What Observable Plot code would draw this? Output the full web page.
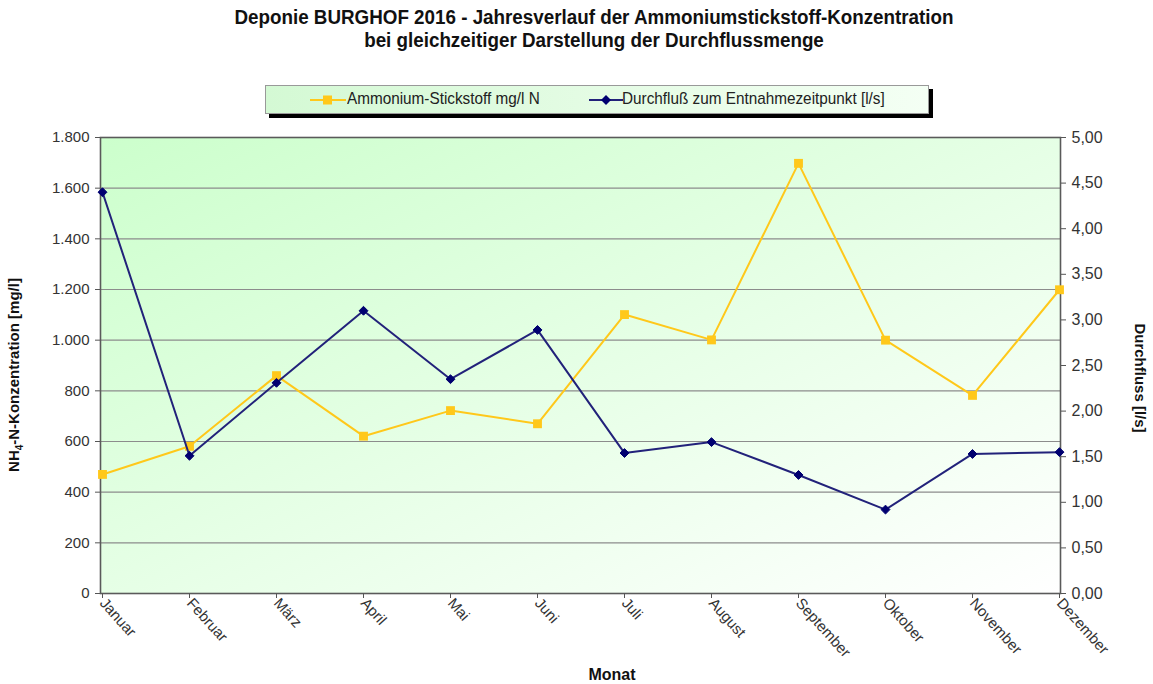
<!DOCTYPE html>
<html><head><meta charset="utf-8">
<script src="https://cdn.jsdelivr.net/npm/d3@7"></script>
<script src="https://cdn.jsdelivr.net/npm/@observablehq/plot@0.6"></script>
<style>
body{margin:0;background:#fff;font-family:"Liberation Sans",Arial,sans-serif;}
#wrap{position:relative;width:1153px;height:684px;overflow:hidden;}
#chart{position:absolute;left:0;top:0;}
.title{position:absolute;left:594px;transform:translateX(-50%) scaleX(0.94);white-space:nowrap;font-weight:bold;font-size:20px;color:#111;}
#legend{position:absolute;left:265px;top:85px;width:662px;height:27px;border:1px solid #999;background:linear-gradient(to right,#d4f9d4,#f4fff4);box-shadow:4px 4px 0 #000;font-size:17px;color:#222;}
.li{position:absolute;top:3px;white-space:nowrap;transform-origin:left center;transform:scaleX(0.9);}
.ax{position:absolute;font-weight:bold;font-size:15px;color:#111;white-space:nowrap;}
</style></head><body>
<div id="wrap">
<div id="chart"></div>
<div class="title" style="top:6px">Deponie BURGHOF 2016 - Jahresverlauf der Ammoniumstickstoff-Konzentration</div>
<div class="title" style="top:29px">bei gleichzeitiger Darstellung der Durchflussmenge</div>
<div id="legend">
 <svg style="position:absolute;left:44px;top:6px" width="36" height="16"><line x1="0" y1="8" x2="36" y2="8" stroke="#ffc81a" stroke-width="2"/><rect x="13" y="3.5" width="9" height="9" fill="#ffc81a"/></svg>
 <div class="li" style="left:81px">Ammonium-Stickstoff mg/l N</div>
 <svg style="position:absolute;left:323px;top:6px" width="34" height="16"><line x1="0" y1="8" x2="34" y2="8" stroke="#22227a" stroke-width="2"/><path d="M17 3 L22 8 L17 13 L12 8Z" fill="#000070"/></svg>
 <div class="li" style="left:356px">Durchfluß zum Entnahmezeitpunkt [l/s]</div>
</div>
<div class="ax" style="left:15px;top:375px;transform:translate(-50%,-50%) rotate(-90deg)">NH<sub style="font-size:10px">4</sub>-N-Konzentration [mg/l]</div>
<div class="ax" style="left:1140px;top:378px;transform:translate(-50%,-50%) rotate(90deg)">Durchfluss [l/s]</div>
<div class="ax" style="left:612px;top:675px;transform:translate(-50%,-50%);font-size:16px">Monat</div>
</div>
<script>
const months = ["Januar","Februar","März","April","Mai","Juni","Juli","August","September","Oktober","November","Dezember"];
const ammonium = [470,581,860,621,722,670,1101,1001,1698,1000,782,1199];
const durchfluss = [4.40,1.51,2.31,3.10,2.35,2.89,1.54,1.66,1.30,0.92,1.53,1.55];
const leftTicks = [0,200,400,600,800,1000,1200,1400,1600,1800];
const rightTicks = [0,0.5,1,1.5,2,2.5,3,3.5,4,4.5,5];
const leftMax = 1800, rightMax = 5;
const k = leftMax / rightMax;

const ammRows = months.map((m,i)=>({m, v: ammonium[i]}));
const dfRows = months.map((m,i)=>({m, v: durchfluss[i]}));

function defsMark(){
  const defs = d3.create("svg:defs");
  const g = defs.append("linearGradient").attr("id","bg").attr("x1","0").attr("y1","0").attr("x2","1").attr("y2","1");
  g.append("stop").attr("offset","0").attr("stop-color","#ccffcc");
  g.append("stop").attr("offset","1").attr("stop-color","#ffffff");
  return defs.node();
}
const fmtL = d => d3.format(",")(d).replace(/,/g,".");
const fmtR = d => (d/k).toFixed(2).replace(".",",");

const chart = Plot.plot({
  width:1153, height:684,
  marginTop:137, marginBottom:91, marginLeft:100, marginRight:93,
  style:{fontFamily:"Liberation Sans, Arial, sans-serif", background:"transparent", color:"#333"},
  x:{type:"point", domain:months, padding:0},
  y:{domain:[0,leftMax]},
  marks:[
    defsMark,
    Plot.frame({fill:"url(#bg)", stroke:"none"}),
    Plot.ruleY(leftTicks.slice(1,-1), {stroke:"#8c8c8c", strokeWidth:1.2}),
    Plot.frame({stroke:"#5a5a5a", strokeWidth:1.6}),
    Plot.axisY(leftTicks, {anchor:"left", tickFormat:fmtL, fontSize:15, tickSize:5, tickPadding:6, label:null, stroke:"#555"}),
    Plot.axisY(rightTicks.map(v=>v*k), {anchor:"right", tickFormat:fmtR, fontSize:16, tickSize:5, tickPadding:6, label:null, stroke:"#555"}),
    Plot.axisX(months, {anchor:"bottom", tickRotate:48, fontSize:15, tickSize:5, tickPadding:2, label:null, stroke:"#555"}),
    Plot.line(ammRows, {x:"m", y:"v", stroke:"#ffc81a", strokeWidth:2}),
    Plot.dot(ammRows, {x:"m", y:"v", symbol:"square", fill:"#ffc81a", r:5}),
    Plot.line(dfRows, {x:"m", y:d=>d.v*k, stroke:"#22227a", strokeWidth:2}),
    Plot.dot(dfRows, {x:"m", y:d=>d.v*k, symbol:"diamond2", fill:"#000070", stroke:"#000070", strokeWidth:1, r:4})
  ]
});
document.getElementById("chart").appendChild(chart);
</script>
</body></html>
